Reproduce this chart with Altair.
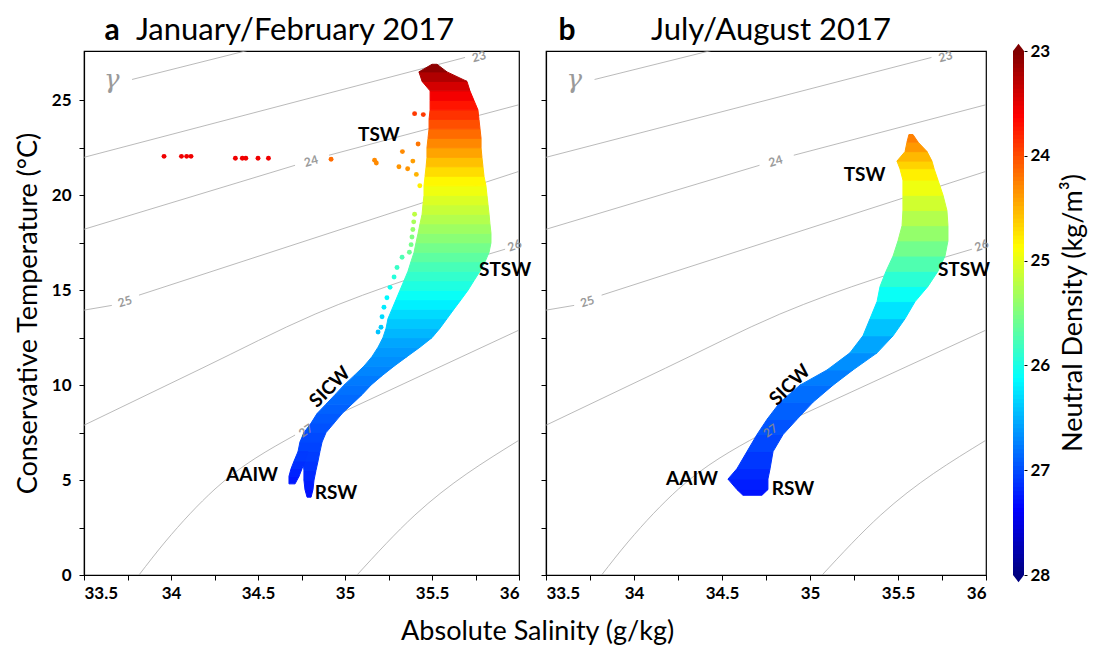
import altair as alt
import pandas as pd
import numpy as np

FONT = "Lato"

# ---------------- axis ticks ----------------
X_TICKS = [33.5, 33.75, 34.0, 34.25, 34.5, 34.75, 35.0, 35.25, 35.5, 35.75, 36.0]
Y_TICKS = [0, 2.5, 5, 7.5, 10, 12.5, 15, 17.5, 20, 22.5, 25]
CB_TICKS = [23, 24, 25, 26, 27, 28]

# jet-like colour scale for neutral density
CS_DOMAIN = [23.0, 23.625, 24.875, 26.125, 27.375, 28.0]
CS_RANGE = ["#7f0000", "#ff0000", "#ffff00", "#00ffff", "#0000ff", "#00007f"]

# ---------------- panel a : Jan/Feb 2017 cloud envelope ----------------
A_T = [4.1, 4.5, 5.0, 5.5, 6.0, 6.5, 7.0, 7.5, 8.0, 8.5, 9.0, 9.5, 10.0, 10.5, 11.0, 11.5,
       12.0, 12.5, 13.0, 13.5, 14.0, 14.5, 15.0, 15.5, 16.0, 16.5, 17.0, 17.5, 18.0, 18.5,
       19.0, 19.5, 20.0, 20.5, 21.0, 21.5, 22.0, 22.5, 23.0, 23.5, 24.0, 24.5, 25.0, 25.5,
       26.0, 26.5, 26.9]
A_SL = [34.782, 34.770, 34.764, 34.764, 34.759, 34.730, 34.741, 34.764, 34.805, 34.839,
        34.891, 34.943, 34.994, 35.052, 35.109, 35.155, 35.190, 35.218, 35.236, 35.247,
        35.270, 35.293, 35.316, 35.339, 35.362, 35.379, 35.397, 35.408, 35.420, 35.431,
        35.443, 35.448, 35.454, 35.454, 35.460, 35.466, 35.471, 35.471, 35.477, 35.483,
        35.483, 35.489, 35.489, 35.489, 35.443, 35.425, 35.500]
A_SR = [34.805, 34.816, 34.822, 34.833, 34.845, 34.856, 34.868, 34.891, 34.937, 34.983,
        35.040, 35.098, 35.149, 35.213, 35.282, 35.356, 35.431, 35.500, 35.546, 35.586,
        35.626, 35.667, 35.707, 35.741, 35.776, 35.805, 35.828, 35.839, 35.839, 35.833,
        35.828, 35.822, 35.816, 35.810, 35.799, 35.793, 35.787, 35.782, 35.782, 35.776,
        35.770, 35.764, 35.741, 35.718, 35.701, 35.586, 35.529]
A_G = [27.3, 27.28, 27.2, 27.15, 27.1, 27.06, 27.03, 27.0, 26.96, 26.92, 26.88, 26.84,
       26.8, 26.75, 26.7, 26.65, 26.6, 26.52, 26.44, 26.35, 26.25, 26.14, 26.03, 25.93,
       25.83, 25.72, 25.61, 25.5, 25.4, 25.3, 25.2, 25.1, 25.0, 24.9, 24.78, 24.64, 24.5,
       24.36, 24.22, 24.08, 23.94, 23.8, 23.65, 23.5, 23.33, 23.15, 23.0]

# AAIW branch of panel a
AA_T = [4.8, 5.2, 5.6, 6.0, 6.5]
AA_SL = [34.678, 34.678, 34.690, 34.707, 34.730]
AA_SR = [34.713, 34.736, 34.753, 34.770, 34.787]
AA_G = [27.28, 27.24, 27.18, 27.12, 27.06]

# isolated casts of panel a
PA_S = [33.96, 34.06, 34.09, 34.115, 34.37, 34.41, 34.43, 34.50, 34.56,
        34.92, 35.17, 35.18, 35.31, 35.36, 35.33, 35.39, 35.41, 35.42, 35.40, 35.45, 35.43,
        35.40, 35.395, 35.39, 35.385, 35.38, 35.37,
        35.328, 35.299, 35.282, 35.259, 35.241, 35.224, 35.213, 35.207, 35.19, 35.50]
PA_T = [22.05, 22.05, 22.05, 22.05, 21.95, 21.95, 21.95, 21.95, 21.95,
        21.9, 21.85, 21.7, 21.5, 21.4, 22.3, 21.8, 21.1, 22.7, 24.3, 24.25, 20.5,
        19.0, 18.6, 18.2, 17.8, 17.4, 17.0,
        16.74, 16.2, 15.7, 15.15, 14.6, 14.1, 13.6, 13.05, 12.8, 12.7]
PA_G = [23.55, 23.55, 23.55, 23.55, 23.55, 23.55, 23.55, 23.55, 23.55,
        24.15, 24.3, 24.3, 24.35, 24.35, 24.3, 24.4, 24.5, 24.2, 23.9, 23.9, 24.8,
        25.2, 25.3, 25.4, 25.5, 25.55, 25.6,
        25.75, 25.85, 25.95, 26.05, 26.15, 26.22, 26.3, 26.38, 26.42, 26.5]

# ---------------- panel b : Jul/Aug 2017 cloud envelope ----------------
B_T = [4.2, 4.5, 5.05, 5.6, 6.5, 7.4, 8.2, 9.1, 10.0, 10.8, 11.7, 12.6, 13.5, 14.4, 15.2,
       16.0, 16.8, 17.6, 18.4, 19.2, 20.0, 20.8, 21.4, 21.8, 22.3, 22.8, 23.2]
B_SL = [34.619, 34.585, 34.534, 34.585, 34.642, 34.699, 34.756, 34.830, 34.943, 35.097,
        35.227, 35.301, 35.341, 35.381, 35.398, 35.432, 35.472, 35.500, 35.523, 35.528,
        35.528, 35.528, 35.511, 35.494, 35.540, 35.551, 35.562]
B_SR = [34.727, 34.761, 34.761, 34.773, 34.790, 34.847, 34.926, 35.017, 35.131, 35.244,
        35.381, 35.472, 35.540, 35.597, 35.670, 35.727, 35.767, 35.784, 35.784, 35.778,
        35.756, 35.727, 35.705, 35.693, 35.665, 35.614, 35.585]
B_G = [27.3, 27.27, 27.2, 27.15, 27.06, 27.0, 26.94, 26.87, 26.8, 26.72, 26.63, 26.5,
       26.35, 26.16, 26.0, 25.83, 25.65, 25.48, 25.32, 25.18, 25.03, 24.88, 24.72, 24.6,
       24.45, 24.3, 24.2]

# ---------------- neutral-density isolines (gamma) ----------------
CONT_ID = ["22", "22", "23", "23", "24a", "24a", "24b", "24b", "25a", "25a", "25b", "25b",
           "26", "26", "26", "26", "27a", "27a", "27a", "27a", "27b", "27b", "28", "28", "28"]
CONT_S = [33.776, 34.47, 33.5, 35.69, 33.5, 34.713, 34.908, 36.0, 33.5, 33.66, 33.816, 36.0,
          33.5, 34.178, 34.828, 35.92, 33.816, 33.966, 34.253, 34.713, 34.839, 36.0,
          35.069, 35.402, 36.0]
CONT_T = [26.1, 27.7, 22.0, 27.26, 18.21, 21.58, 22.11, 24.77, 13.95, 14.2, 14.74, 21.26,
          7.89, 10.89, 13.74, 17.16, 0.0, 1.74, 4.53, 7.37, 7.95, 12.9, 0.0, 3.16, 7.1]

CLAB_TEXT = ["23", "24", "25", "26", "27"]
CLAB_S = [35.77, 34.805, 33.735, 35.975, 34.775]
CLAB_T = [27.3, 21.8, 14.4, 17.35, 7.6]
CLAB_ANG = [346, 344, 342, 340, 325]

# ---------------- water-mass labels ----------------
WM_TEXT = ["TSW", "STSW", "AAIW", "RSW"]
WMA_S = [35.195, 35.92, 34.466, 34.948]
WMA_T = [23.2, 16.05, 5.26, 4.3]
WMB_S = [35.31, 35.875, 34.33, 34.903]
WMB_T = [21.05, 16.05, 5.05, 4.53]
SICW_A = [34.914, 9.9]
SICW_B = [34.886, 10.0]
GAMMA_POS = [33.66, 26.05]

PLOT_H = 524


def band_table(T, SL, SR, G, key):
    rows = []
    for i in range(len(T) - 1):
        gm = (G[i] + G[i + 1]) / 2
        for j in (i, i + 1):
            rows.append({"band": f"{key}{i:03d}", "T": T[j], "SL": SL[j], "SR": SR[j], "g": gm})
    return pd.DataFrame(rows)


cs = alt.Scale(domain=CS_DOMAIN, range=CS_RANGE, interpolate="rgb", clamp=True)

cont_df = pd.DataFrame({"id": CONT_ID, "S": CONT_S, "T": CONT_T, "k": list(range(len(CONT_ID)))})
clab_df = pd.DataFrame({"lab": CLAB_TEXT, "S": CLAB_S, "T": CLAB_T, "ang": CLAB_ANG})


def make_panel(width, bands_list, pts_df, wm_df, sicw, letter, title, letter_x, title_x, show_labels):
    xs = alt.Scale(domain=[33.5, 36], nice=False, zero=False)
    ys = alt.Scale(domain=[0, 27.6], nice=False, zero=False)
    xaxis = alt.Axis(values=X_TICKS, title=None, grid=False, tickSize=5, labelPadding=5,
                     labelExpr="(datum.value * 2) == round(datum.value * 2) ? format(datum.value, '.1~f') : ''")
    if show_labels:
        yaxis = alt.Axis(values=Y_TICKS, grid=False, tickSize=5, labelPadding=8,
                         title="Conservative Temperature (°C)", titlePadding=9,
                         labelExpr="datum.value % 5 == 0 ? format(datum.value, 'd') : ''")
    else:
        yaxis = alt.Axis(values=Y_TICKS, grid=False, tickSize=5, labels=False, title=None)

    def X(f):
        return alt.X(f, type="quantitative", scale=xs, axis=xaxis)

    def Y(f):
        return alt.Y(f, type="quantitative", scale=ys, axis=yaxis)

    layers = []
    layers.append(alt.Chart(cont_df).mark_line(color="#a8a8a8", strokeWidth=0.8, clip=True,
                                               interpolate="monotone").encode(
        x=X("S"), y=Y("T"), detail="id:N", order="k:Q"))
    for bdf in bands_list:
        layers.append(alt.Chart(bdf).mark_area(orient="horizontal", strokeWidth=1, clip=True).encode(
            y=Y("T"), x=X("SL"), x2=alt.X2("SR"),
            color=alt.Color("g:Q", scale=cs, legend=None),
            stroke=alt.Stroke("g:Q", scale=cs, legend=None),
            detail="band:N"))
    if pts_df is not None:
        layers.append(alt.Chart(pts_df).mark_circle(size=24, opacity=1).encode(
            x=X("S"), y=Y("T"), color=alt.Color("g:Q", scale=cs, legend=None)))
    layers.append(alt.Chart(clab_df).mark_text(color="#8a8a8a", fontSize=12, fontWeight="bold",
                                               opacity=0.85).encode(
        x=X("S"), y=Y("T"), text="lab:N", angle=alt.Angle("ang:Q", scale=None)))
    layers.append(alt.Chart(wm_df).mark_text(fontSize=19, fontWeight="bold", color="black").encode(
        x=X("S"), y=Y("T"), text="txt:N"))
    layers.append(alt.Chart(pd.DataFrame({"S": [sicw[0]], "T": [sicw[1]], "txt": ["SICW"]})).mark_text(
        fontSize=19, fontWeight="bold", color="black", angle=315).encode(
        x=X("S"), y=Y("T"), text="txt:N"))
    layers.append(alt.Chart(pd.DataFrame({"S": [GAMMA_POS[0]], "T": [GAMMA_POS[1]], "txt": ["γ"]})).mark_text(
        fontSize=26, fontStyle="italic", color="#9a9a9a", font="DejaVu Serif").encode(
        x=X("S"), y=Y("T"), text="txt:N"))
    layers.append(alt.Chart(alt.Data(values=[{}])).mark_text(
        text=letter, fontSize=30, fontWeight="bold", align="center", baseline="alphabetic", color="black").encode(
        x=alt.value(letter_x), y=alt.value(-11)))
    layers.append(alt.Chart(alt.Data(values=[{}])).mark_text(
        text=title, fontSize=31, align="center", baseline="alphabetic", color="black").encode(
        x=alt.value(title_x), y=alt.value(-11)))
    return alt.layer(*layers).properties(width=width, height=PLOT_H)


pa = make_panel(
    435,
    [band_table(A_T, A_SL, A_SR, A_G, "a"), band_table(AA_T, AA_SL, AA_SR, AA_G, "aa")],
    pd.DataFrame({"S": PA_S, "T": PA_T, "g": PA_G}),
    pd.DataFrame({"S": WMA_S, "T": WMA_T, "txt": WM_TEXT}),
    SICW_A, "a", "January/February 2017", 28, 211, True)

pb = make_panel(
    440,
    [band_table(B_T, B_SL, B_SR, B_G, "b")],
    None,
    pd.DataFrame({"S": WMB_S, "T": WMB_T, "txt": WM_TEXT}),
    SICW_B, "b", "July/August 2017", 21, 225, False)

# ---------------- colour bar ----------------
CBW = 11
edges = np.linspace(23, 28, 126)
cb_df = pd.DataFrame({"g0": edges[:-1], "g1": np.minimum(edges[1:] + 0.01, 28.0),
                      "gm": (edges[:-1] + edges[1:]) / 2})
cbys = alt.Scale(domain=[23, 28], reverse=True, nice=False, zero=False)
cbaxis = alt.Axis(orient="right", values=CB_TICKS, format="d", title=None, tickSize=3,
                  labelPadding=3, domain=False, grid=False)
cb_rects = alt.Chart(cb_df).mark_rect().encode(
    x=alt.value(0), x2=alt.value(CBW),
    y=alt.Y("g0:Q", scale=cbys, axis=cbaxis), y2="g1:Q",
    color=alt.Color("gm:Q", scale=cs, legend=None))
tri_top = alt.Chart(pd.DataFrame({"g0": [23.0]})).mark_point(
    shape="M -1 0 L 0 -1.3 L 1 0 Z", size=CBW * CBW, filled=True, opacity=1, color="#7f0000").encode(
    x=alt.value(CBW / 2), y=alt.Y("g0:Q", scale=cbys, axis=cbaxis))
tri_bot = alt.Chart(pd.DataFrame({"g0": [28.0]})).mark_point(
    shape="M -1 0 L 0 1.3 L 1 0 Z", size=CBW * CBW, filled=True, opacity=1, color="#00007f").encode(
    x=alt.value(CBW / 2), y=alt.Y("g0:Q", scale=cbys, axis=cbaxis))
cb_title = alt.Chart(alt.Data(values=[{}])).mark_text(
    text="Neutral Density (kg/m³)", angle=270, fontSize=27, align="center", baseline="middle",
    color="black").encode(x=alt.value(61), y=alt.value(262))
cb = alt.layer(cb_rects, tri_top, tri_bot, cb_title).properties(
    width=CBW, height=PLOT_H, view=alt.ViewBackground(stroke="transparent"))

chart = alt.hconcat(pa, pb, cb, spacing=27, bounds="flush").properties(
    title=alt.TitleParams(text="Absolute Salinity (g/kg)", orient="bottom", anchor="middle",
                          fontSize=27, fontWeight="normal", color="black", dx=-13, offset=17),
    padding={"left": 13, "top": 14, "right": 2, "bottom": 0},
).configure(font=FONT).configure_view(stroke="black", strokeWidth=1.2).configure_axis(
    labelFont=FONT, titleFont=FONT, labelColor="black", titleColor="black", tickColor="black",
    domainColor="black", labelFontSize=17, labelFontWeight="bold", titleFontSize=27,
    titleFontWeight="normal", domainWidth=1.2, tickWidth=1)

chart.save("out.html", embed_options={"renderer": "svg", "actions": False})
